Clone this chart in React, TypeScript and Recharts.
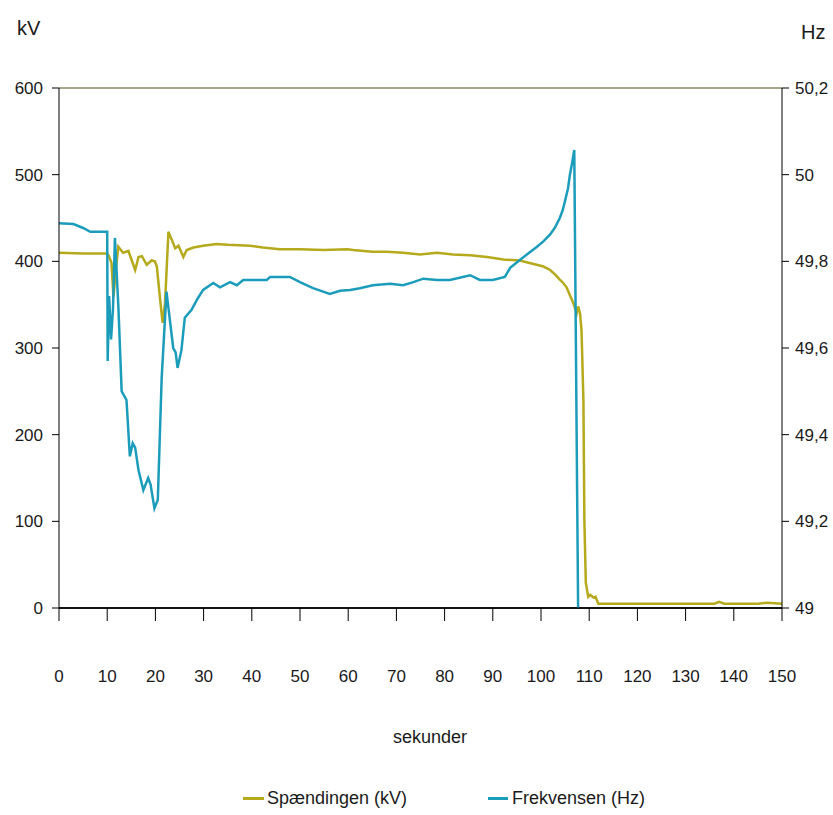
import { LineChart, Line, XAxis, YAxis, CartesianGrid, ReferenceLine } from 'recharts';

// Voltage trace (seconds, kV)
const voltT = [
  0, 5, 10, 10.3, 10.9, 11.3, 11.8, 12.3, 13.3, 14.4, 15.1, 15.8, 16.5, 17.2, 18.2, 19.2, 19.9, 20.3,
  21.0, 21.5, 22.0, 22.7, 23.4, 24.1, 24.8, 25.8, 26.5, 27.9, 29.9, 32.7, 35, 39.6, 42.3, 45.8, 50,
  55, 59.8, 61, 65, 68, 71.4, 74.9, 78.4, 81.7, 85.3, 88.8, 92.2, 95.6, 97, 99.1, 100.5, 101.9, 102.9,
  103.9, 104.6, 105.3, 106, 106.7, 107.4, 107.7, 108.1, 108.4, 108.8, 109.0, 109.3, 109.8, 110.2,
  110.9, 111.3, 111.9, 115, 120, 130, 136, 137, 138, 145, 147, 150,
];
const voltV = [
  410, 409, 409, 407, 398, 359, 390, 417, 410, 412, 401, 390, 405, 406, 396, 401, 400, 394,
  355, 329, 352, 434, 425, 415, 418, 405, 413, 416, 418, 420, 419, 418, 416, 414, 414,
  413, 414, 413, 411, 411, 410, 408, 410, 408, 407, 405, 402, 401, 399, 396, 394, 390, 385,
  379, 375, 370, 361, 352, 340, 348, 340, 321, 240, 101, 29, 13, 15,
  12, 13, 5, 5, 5, 5, 5, 7, 5, 5, 6, 5,
];

// Frequency trace (seconds, Hz)
const freqT = [
  0, 3, 5, 6.5, 10, 10.1, 10.4, 10.8, 11.2, 11.6, 12.3, 13.0, 13.5, 14.0, 14.7, 15.3, 15.8, 16.5,
  17.5, 18.5, 19.0, 19.8, 20.5, 21.3, 22.3, 23.0, 23.7, 24.2, 24.6, 25.4, 26.1, 27.5, 28.6, 29.9,
  32, 33.4, 35.5, 36.9, 38.2, 43.1, 43.8, 47.9, 50, 52.7, 56.2, 58.3, 60.4, 62.4, 65.1, 68.7, 71.4,
  73.5, 75.6, 78.4, 81.1, 85.3, 87.3, 90, 92.5, 93.6, 95.6, 97, 99.1, 100.5, 101.9, 102.9, 103.9,
  104.5, 105, 105.6, 106, 106.5, 106.9, 107.7,
];
const freqV = [
  49.888, 49.886, 49.877, 49.868, 49.868, 49.57, 49.72, 49.62, 49.69, 49.854, 49.7, 49.5, 49.49, 49.48,
  49.35, 49.38, 49.37, 49.318, 49.272, 49.3, 49.285, 49.23, 49.25, 49.53, 49.73, 49.665, 49.6, 49.59,
  49.554, 49.595, 49.67, 49.688, 49.711, 49.734, 49.75, 49.74, 49.752, 49.745, 49.757, 49.757, 49.764,
  49.764, 49.752, 49.738, 49.725, 49.732, 49.734, 49.738, 49.745, 49.748, 49.745, 49.752, 49.76, 49.757,
  49.757, 49.768, 49.757, 49.757, 49.764, 49.785, 49.803, 49.815, 49.833, 49.846, 49.862, 49.878, 49.9,
  49.918, 49.94, 49.968, 50.0, 50.03, 50.057, 49.0,
];

const xTicks = [0, 10, 20, 30, 40, 50, 60, 70, 80, 90, 100, 110, 120, 130, 140, 150];
const kvTicks = [0, 100, 200, 300, 400, 500, 600];
const hzTicks = [49, 49.2, 49.4, 49.6, 49.8, 50, 50.2];

const voltData = voltT.map((t, i) => ({ t, v: voltV[i] }));
const freqData = freqT.map((t, i) => ({ t, v: freqV[i] }));

const FONT = "'Liberation Sans', Arial, sans-serif";
const TXT = '#1a1a1a';
const VOLT = '#b5a91c';
const FREQ = '#1b9cbb';

const hzFmt = (v: number) => String(+v.toFixed(1)).replace('.', ',');

export default function App() {
  const tickStyle = { fill: TXT, fontSize: 17, fontFamily: FONT };
  return (
    <div style={{ position: 'absolute', left: 0, top: 0, width: 833, height: 815, background: '#fff', fontFamily: FONT, color: TXT }}>
      <LineChart width={833} height={815} margin={{ top: 88, right: 0, bottom: 0, left: 0 }}>
        <CartesianGrid vertical={false} stroke="#000" strokeWidth={2} strokeOpacity={0.85} />
        <XAxis
          dataKey="t"
          type="number"
          domain={[0, 150]}
          ticks={xTicks}
          allowDuplicatedCategory={false}
          height={207}
          tickSize={13}
          tickMargin={49}
          stroke="#000"
          tick={tickStyle}
        />
        <YAxis
          yAxisId="kv"
          orientation="left"
          domain={[0, 600]}
          ticks={kvTicks}
          width={59}
          tickSize={7}
          tickMargin={9}
          stroke="#000"
          tick={tickStyle}
        />
        <YAxis
          yAxisId="hz"
          orientation="right"
          domain={[49, 50.2]}
          ticks={hzTicks}
          tickFormatter={hzFmt}
          width={51}
          tickSize={7}
          tickMargin={6}
          stroke="#000"
          tick={{ ...tickStyle, textAnchor: 'start' }}
        />
        <ReferenceLine yAxisId="kv" y={600} stroke="#a7a58a" strokeWidth={2} />
        <Line
          yAxisId="kv"
          data={voltData}
          dataKey="v"
          type="linear"
          stroke={VOLT}
          strokeWidth={2.5}
          dot={false}
          isAnimationActive={false}
        />
        <Line
          yAxisId="hz"
          data={freqData}
          dataKey="v"
          type="linear"
          stroke={FREQ}
          strokeWidth={2.5}
          dot={false}
          isAnimationActive={false}
        />
      </LineChart>

      <div style={{ position: 'absolute', left: 17, top: 17, fontSize: 20 }}>kV</div>
      <div style={{ position: 'absolute', left: 801, top: 21, fontSize: 20 }}>Hz</div>
      <div style={{ position: 'absolute', left: 0, width: 860, top: 727, textAlign: 'center', fontSize: 18 }}>sekunder</div>

      <div style={{ position: 'absolute', left: 243, top: 788, display: 'flex', alignItems: 'center', fontSize: 18 }}>
        <span style={{ display: 'inline-block', width: 21, height: 3, background: VOLT, marginRight: 3 }} />
        Spændingen (kV)
      </div>
      <div style={{ position: 'absolute', left: 488, top: 788, display: 'flex', alignItems: 'center', fontSize: 18 }}>
        <span style={{ display: 'inline-block', width: 20, height: 3, background: FREQ, marginRight: 4 }} />
        Frekvensen (Hz)
      </div>
    </div>
  );
}
